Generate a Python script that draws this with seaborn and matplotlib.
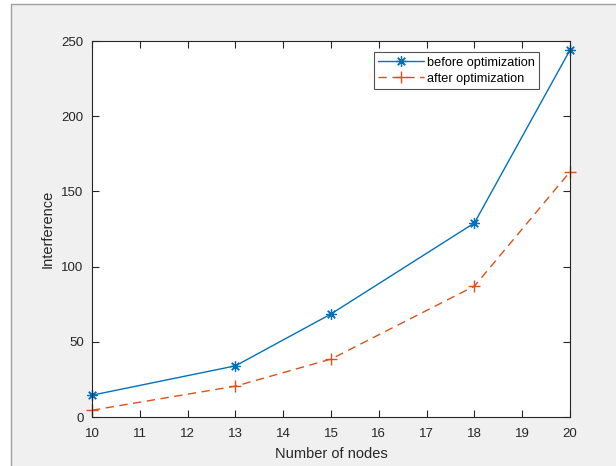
import matplotlib
matplotlib.use("Agg")
import matplotlib.pyplot as plt
import seaborn as sns
import pandas as pd
from matplotlib.lines import Line2D
from matplotlib.patches import Rectangle

nodes = [10, 13, 15, 18, 20]
before_opt = [14.5, 34, 68.5, 129, 244]
after_opt = [4.5, 20.5, 38.5, 87, 163]
x_ticks = list(range(10, 21))
y_ticks = [0, 50, 100, 150, 200, 250]

sns.set_theme(style="white")
plt.rcParams["font.family"] = ["Liberation Sans", "DejaVu Sans"]

fig = plt.figure(figsize=(6.16, 4.66), dpi=100, facecolor="white")
# window-like grey background with frame lines
fig.patches.append(Rectangle((10.5 / 616, 0), 1, 1 - 3.5 / 466, transform=fig.transFigure,
                             facecolor="#f0f0f0", edgecolor="none", zorder=-10))
fig.lines.append(Line2D([10.5 / 616, 10.5 / 616], [0, 1 - 3.5 / 466], transform=fig.transFigure,
                        color="#a0a0a0", lw=1))
fig.lines.append(Line2D([10.5 / 616, 1], [1 - 3.5 / 466, 1 - 3.5 / 466], transform=fig.transFigure,
                        color="#a0a0a0", lw=1))

ax = fig.add_axes([92 / 616, 1 - 417 / 466, (570 - 92) / 616, (417 - 41) / 466])
ax.set_facecolor("white")

blue = "#0072BD"
orange = "#D95319"
df_b = pd.DataFrame({"x": nodes, "y": before_opt})
df_a = pd.DataFrame({"x": nodes, "y": after_opt})
sns.lineplot(data=df_b, x="x", y="y", ax=ax, color=blue, lw=1.0, marker=(8, 2, 0),
             markersize=7.5, markeredgewidth=0.9, markeredgecolor=blue, markerfacecolor=blue,
             label="before optimization", clip_on=False)
sns.lineplot(data=df_a, x="x", y="y", ax=ax, color=orange, lw=1.0, marker="+",
             markersize=9, markeredgewidth=1.0, markeredgecolor=orange,
             label="after optimization", clip_on=False)
ax.lines[1].set_dashes((6, 4))

ax.set_xlim(10, 20)
ax.set_ylim(0, 250)
ax.set_xticks(x_ticks)
ax.set_yticks(y_ticks)
ax.set_xlabel("Number of nodes", fontsize=10.5, color="#262626", labelpad=5)
ax.set_ylabel("Interference", fontsize=10.5, color="#262626", labelpad=5)
ax.tick_params(direction="in", length=5, width=0.8, colors="#262626", labelsize=9.5,
               top=True, right=True, bottom=True, left=True)
ax.tick_params(axis="x", pad=8)
ax.tick_params(axis="y", pad=6)
for s in ax.spines.values():
    s.set_color("#262626")
    s.set_linewidth(0.8)

leg = ax.legend(loc="upper right", bbox_to_anchor=(0.935, 0.97), fontsize=9.2, frameon=True,
                fancybox=False, handlelength=3.6, borderpad=0.35, labelspacing=0.3,
                handletextpad=0.2, borderaxespad=0.0)
leg.get_frame().set_edgecolor("#262626")
leg.get_frame().set_linewidth(0.8)
for t in leg.get_texts():
    t.set_color("#000000")

fig.savefig("out.png", dpi=100, facecolor=fig.get_facecolor())
